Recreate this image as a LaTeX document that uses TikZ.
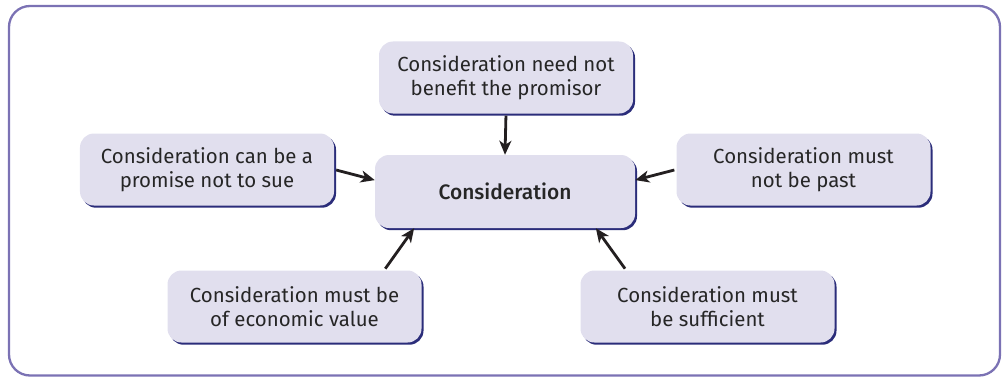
\documentclass[tikz,border=0pt]{standalone}
\usepackage{fontspec}
\setmainfont{Fira Sans}
\newfontfamily\medfont{Fira Sans Medium}
\usetikzlibrary{arrows.meta,shadows}
\definecolor{framec}{HTML}{7B72B4}
\definecolor{boxfill}{HTML}{E1DFEE}
\definecolor{shadowc}{HTML}{2B2D7A}
\definecolor{txt}{HTML}{262626}
\definecolor{arr}{HTML}{231F20}
\tikzset{
  card/.style={rectangle, rounded corners=14bp, fill=boxfill, text=txt,
    minimum width=254bp, minimum height=72bp, inner sep=0pt, align=center,
    font=\fontsize{20.5}{24}\selectfont,
    drop shadow={shadow xshift=2bp, shadow yshift=-2.2bp, fill=shadowc, opacity=1}},
  conn/.style={draw=arr, line width=2.8bp, shorten <=2bp, -{Stealth[length=14bp,width=12bp,inset=4bp]}}
}
\begin{document}
\begin{tikzpicture}[x=1bp,y=1bp]
\useasboundingbox (0,0) rectangle (1002,377);
\draw[framec, line width=2.3bp, rounded corners=21bp] (9,371) rectangle (1000,1.5);
\node[card] (top) at (506,299.5) {Consideration need not\\benefit the promisor};
\node[card, minimum width=260bp, minimum height=73bp, font=\fontsize{21}{24}\selectfont\medfont] (ctr) at (505,185.5) {Consideration};
\node[card] (lft) at (207,207.5) {Consideration can be a\\promise not to sue};
\node[card] (rgt) at (803.5,207.5) {Consideration must\\not be past};
\node[card] (bl) at (294.5,70.5) {Consideration must be\\of economic value};
\node[card] (br) at (707.5,70.5) {Consideration must\\be sufficient};
\draw[conn] (top.south) -- (ctr.north);
\draw[conn] (lft.east) -- (ctr.175);
\draw[conn] (rgt.west) -- (ctr.5);
\draw[conn] (bl.22) -- (ctr.202);
\draw[conn] (br.156) -- (ctr.338);
\end{tikzpicture}
\end{document}
